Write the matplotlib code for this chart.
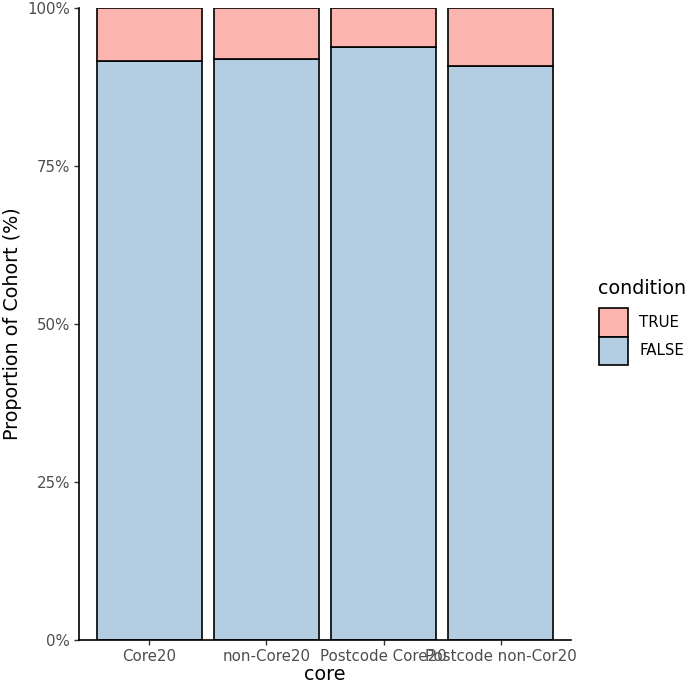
import numpy as np
import matplotlib.pyplot as plt
from matplotlib.patches import Patch

categories = ["Core20", "non-Core20", "Postcode Core20", "Postcode non-Cor20"]
false_share = [0.916, 0.919, 0.939, 0.908]
true_share = [1 - v for v in false_share]
y_ticks = [0, 0.25, 0.5, 0.75, 1.0]
y_tick_labels = ["0%", "25%", "50%", "75%", "100%"]

col_true = "#FBB4AE"
col_false = "#B3CDE3"
grey = "#4D4D4D"

fig = plt.figure(figsize=(6.99, 6.92), dpi=100)
ax = fig.add_axes([79 / 699, 52 / 692, 492 / 699, 632 / 692])

x = np.arange(len(categories))
ax.bar(x, false_share, width=0.9, color=col_false, edgecolor="black", linewidth=1.2)
ax.bar(x, true_share, width=0.9, bottom=false_share, color=col_true, edgecolor="black", linewidth=1.2)

ax.set_xlim(-0.6, len(categories) - 0.4)
ax.set_ylim(0, 1)
ax.set_xticks(x)
ax.set_xticklabels(categories, fontsize=10.8, color=grey)
ax.set_yticks(y_ticks)
ax.set_yticklabels(y_tick_labels, fontsize=10.8, color=grey)
ax.tick_params(axis="both", length=3.8, width=1, color="#333333", pad=2.5)

for s in ["top", "right"]:
    ax.spines[s].set_visible(False)
for s in ["left", "bottom"]:
    ax.spines[s].set_linewidth(1.2)

ax.set_xlabel("core", fontsize=13.8, labelpad=1)
ax.set_ylabel("Proportion of Cohort (%)", fontsize=13.8, labelpad=4)

# legend: title drawn separately so the gap above the keys matches
fig.text(598 / 699, 1 - 289 / 692, "condition", fontsize=13.8, ha="left", va="center")
handles = [Patch(facecolor=col_true, edgecolor="black", linewidth=1.2, label="TRUE"),
           Patch(facecolor=col_false, edgecolor="black", linewidth=1.2, label="FALSE")]
leg = fig.legend(handles=handles, loc="upper left",
                 bbox_to_anchor=(599 / 699, 1 - 308 / 692), frameon=False,
                 fontsize=10.8, handlelength=1.92, handleheight=2.55,
                 labelspacing=0.0, handletextpad=0.75, borderaxespad=0, borderpad=0)

fig.savefig("out.png", dpi=100)
